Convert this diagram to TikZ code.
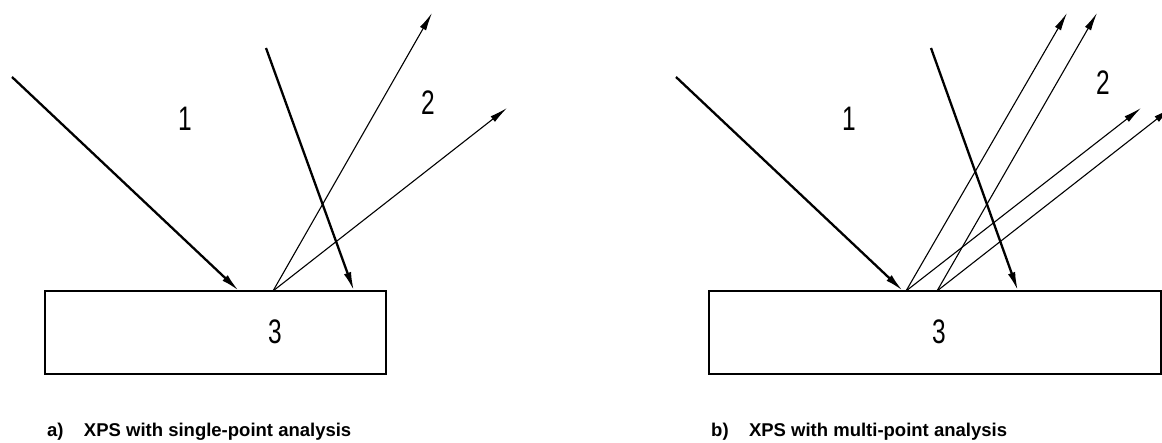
\documentclass[tikz,border=0pt]{standalone}
\usepackage{fontspec}
\setmainfont{Liberation Sans}
\usetikzlibrary{arrows.meta}
\begin{document}
\begin{tikzpicture}[x=1pt,y=-1pt,
  thickline/.style={line width=2.3pt},
  thinline/.style={line width=1.1pt},
  tipthick/.style={-{Latex[length=19pt,width=7.5pt]}},
  tipthin/.style={-{Latex[length=18pt,width=7pt]}},
  sample/.style={draw,line width=2.4pt,inner sep=0pt},
  digit/.style={font=\fontsize{34}{34}\selectfont,xscale=0.72,inner sep=0pt},
  caption/.style={font=\bfseries\fontsize{18.5}{20}\selectfont,anchor=base west,inner sep=0pt}]
\useasboundingbox (0,0) rectangle (1162,443);
\clip (0,0) rectangle (1162,443);
% ---------- panel a ----------
\draw[sample] (45,291) rectangle (386,374);
\coordinate (a-in0) at (12,77);
\coordinate (a-hit) at (239,291);
\coordinate (a-p) at (273,291);
\coordinate (a-e1) at (432,13);
\coordinate (a-e2) at (507,108);
\coordinate (a-t0) at (266,48);
\coordinate (a-t1) at (354,291);
\draw[thickline,tipthick] (a-in0) -- (a-hit);
\draw[thickline,tipthick] (a-t0) -- (a-t1);
\draw[thinline,tipthin] (a-p) -- (a-e1);
\draw[thinline,tipthin] (a-p) -- (a-e2);
\node[digit] (a-l1) at (185,119) {1};
\node[digit] (a-l2) at (428,103) {2};
\node[digit] (a-l3) at (275,332) {3};
\node[caption] (a-cap) at (47,436) {a)\hspace{1.1em}XPS with single-point analysis};
% ---------- panel b ----------
\draw[sample] (709,291) rectangle (1161,374);
\coordinate (b-in0) at (676,77);
\coordinate (b-hit) at (903,291);
\coordinate (b-p1) at (906,291);
\coordinate (b-p2) at (937,291);
\coordinate (b-e1) at (1067,13);
\coordinate (b-e2) at (1141,108);
\coordinate (b-e3) at (1097,13);
\coordinate (b-e4) at (1171,108);
\coordinate (b-t0) at (931,48);
\coordinate (b-t1) at (1018,291);
\draw[thickline,tipthick] (b-in0) -- (b-hit);
\draw[thickline,tipthick] (b-t0) -- (b-t1);
\draw[thinline,tipthin] (b-p1) -- (b-e1);
\draw[thinline,tipthin] (b-p1) -- (b-e2);
\draw[thinline,tipthin] (b-p2) -- (b-e3);
\draw[thinline,tipthin] (b-p2) -- (b-e4);
\node[digit] (b-l1) at (849,119) {1};
\node[digit] (b-l2) at (1103,83) {2};
\node[digit] (b-l3) at (939,332) {3};
\node[caption] (b-cap) at (711,436) {b)\hspace{1.1em}XPS with multi-point analysis};
\end{tikzpicture}
\end{document}
